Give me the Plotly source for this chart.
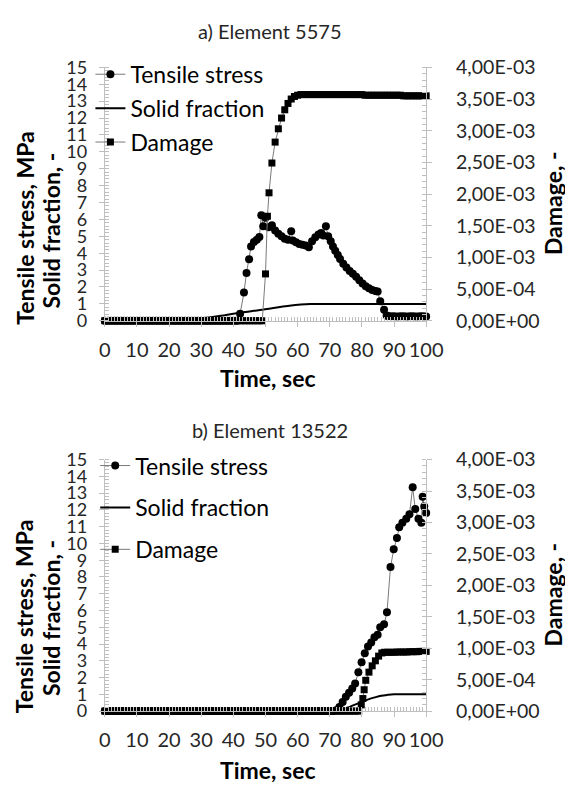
import plotly.graph_objects as go

# ---------------- data ----------------
# a) Element 5575
a_stress_t = list(range(0, 42)) + [42.1, 43.3, 44.1, 44.9, 45.5, 46.4, 47.3, 48.1, 48.7, 49.3, 50.0, 51.0, 52.0,
              53.0, 54.0, 55.0, 56.0, 57.0, 58.0, 58.5, 59.5, 60.5, 61.5, 62.5, 63.5, 64.5, 65.5, 66.5, 67.3,
              68.0, 68.8, 69.5, 70.3, 71.0, 71.7, 72.5, 73.2, 74.2, 75.2, 76.2, 77.2, 78.2, 79.2, 80.2, 81.2,
              82.2, 83.2, 84.2, 84.9, 85.7, 86.9, 87.7] + list(range(88, 101))
a_stress = [0.0] * 42 + [0.42, 1.67, 2.83, 3.64, 4.40, 4.66, 4.80, 4.96, 6.24, 5.60, 6.10, 5.54, 5.66,
              5.35, 5.15, 5.00, 4.85, 4.80, 5.30, 4.75, 4.65, 4.55, 4.50, 4.45, 4.35, 4.70, 4.95, 5.10, 5.20,
              5.05, 5.60, 5.00, 4.70, 4.40, 4.15, 3.90, 3.66, 3.37, 3.15, 2.95, 2.79, 2.60, 2.40, 2.21, 2.05,
              1.92, 1.82, 1.76, 1.73, 1.15, 0.66, 0.31] + [0.28, 0.27, 0.27, 0.26, 0.27, 0.27, 0.26, 0.27,
              0.27, 0.26, 0.27, 0.27, 0.26]

a_solid_t = [0, 20, 22, 25, 28, 31, 34, 37, 40, 43, 46, 49, 52, 55, 58, 61, 64, 67, 100]
a_solid = [0.0, 0.0, 0.01, 0.04, 0.09, 0.16, 0.24, 0.32, 0.41, 0.50, 0.58, 0.65, 0.74, 0.83, 0.91, 0.96,
           0.99, 1.0, 1.0]

a_damage_t = list(range(0, 50)) + [50.0, 50.6, 51.1, 52, 53, 54, 55, 56, 57, 58, 59, 60] + list(range(61, 101))
a_damage = [0.0] * 50 + [0.74e-3, 1.65e-3, 2.02e-3, 2.49e-3, 2.82e-3, 3.03e-3, 3.20e-3, 3.33e-3, 3.43e-3,
            3.50e-3, 3.54e-3, 3.56e-3] + [3.57e-3] * 20 + [3.56e-3] * 12 + [3.55e-3] * 8

# b) Element 13522
b_stress_t = list(range(0, 72)) + [72, 73, 74, 75, 76, 77, 77.9, 78.9, 79.9, 80.9, 81.9, 82.9, 83.9, 84.9,
              85.7, 86.9, 87.8, 88.9, 89.9, 90.9, 91.6, 92.6, 93.8, 94.8, 95.8, 96.6, 97.6, 98.5, 98.9,
              99.4, 100]
b_stress = [0.0] * 72 + [0.05, 0.25, 0.55, 0.85, 1.10, 1.35, 1.64, 2.32, 2.92, 3.45, 3.85, 4.10, 4.40, 4.55,
              5.00, 5.18, 5.89, 8.59, 9.65, 10.32, 10.96, 11.23, 11.48, 11.74, 13.36, 12.06, 11.48, 11.23,
              12.78, 12.20, 11.81]

b_solid_t = [0, 68, 70, 72, 74, 76, 78, 80, 82, 84, 86, 88, 90, 100]
b_solid = [0.0, 0.0, 0.03, 0.08, 0.14, 0.24, 0.40, 0.55, 0.70, 0.82, 0.92, 0.97, 1.0, 1.0]

b_damage_t = list(range(0, 80)) + [79.8, 80.3, 80.7, 81.2, 82.2, 83.2, 84.2, 85.2, 86.2] + list(range(87, 101))
b_damage = [0.0] * 80 + [0.10e-3, 0.20e-3, 0.34e-3, 0.49e-3, 0.62e-3, 0.72e-3, 0.80e-3, 0.875e-3, 0.925e-3] + \
           [0.936e-3] * 4 + [0.94e-3] * 4 + [0.945e-3] * 3 + [0.95e-3] * 3

left_ticks = list(range(0, 16))
right_tickvals = [0, 0.5e-3, 1.0e-3, 1.5e-3, 2.0e-3, 2.5e-3, 3.0e-3, 3.5e-3, 4.0e-3]
right_ticktext = ["0,00E+00", "5,00E-04", "1,00E-03", "1,50E-03", "2,00E-03", "2,50E-03",
                  "3,00E-03", "3,50E-03", "4,00E-03"]
x_ticks = list(range(0, 101, 10))

titles = ["a) Element 5575", "b) Element 13522"]
names = ["Tensile stress", "Solid fraction", "Damage"]

# ---------------- layout helpers ----------------
W, H = 565, 793
FONT = "Lato"


def fx(x):
    return x / W


def fy(y):
    return 1 - y / H


fig = go.Figure()

panels = [
    dict(st=a_stress_t, s=a_stress, sft=a_solid_t, sf=a_solid, dt=a_damage_t, d=a_damage,
         xa="x", ya="y", ya2="y2", legend="legend"),
    dict(st=b_stress_t, s=b_stress, sft=b_solid_t, sf=b_solid, dt=b_damage_t, d=b_damage,
         xa="x2", ya="y3", ya2="y4", legend="legend2"),
]

for i, p in enumerate(panels):
    fig.add_trace(go.Scatter(x=p["st"], y=p["s"], name=names[0], mode="lines+markers",
                             line=dict(color="#7a7a7a", width=1),
                             marker=dict(symbol="circle", size=8, color="black"),
                             xaxis=p["xa"], yaxis=p["ya"], cliponaxis=False,
                             legend=p["legend"], legendgroup=f"g{i}a"))
    fig.add_trace(go.Scatter(x=p["sft"], y=p["sf"], name=names[1], mode="lines",
                             line=dict(color="black", width=2, shape="spline"),
                             xaxis=p["xa"], yaxis=p["ya"], cliponaxis=False,
                             legend=p["legend"], legendgroup=f"g{i}b"))
    fig.add_trace(go.Scatter(x=p["dt"], y=p["d"], name=names[2], mode="lines+markers",
                             line=dict(color="#7a7a7a", width=1),
                             marker=dict(symbol="square", size=7, color="black"),
                             xaxis=p["xa"], yaxis=p["ya2"], cliponaxis=False,
                             legend=p["legend"], legendgroup=f"g{i}c"))

AX = "#bfbfbf"
TICKFONT_L = dict(family=FONT, size=18, color="#262626")
TICKFONT_R = dict(family=FONT, size=19.5, color="#262626")
TICKFONT_X = dict(family=FONT, size=20, color="#262626")
xdom = [fx(103), fx(438)]
ydoms = [[fy(318), fy(57)], [fy(720), fy(461)]]

xaxis_common = dict(domain=xdom, range=[0, 100], tickvals=x_ticks, ticks="outside", ticklen=5,
                    tickcolor=AX, showline=True, linecolor=AX, linewidth=1, showgrid=False,
                    zeroline=False, tickfont=TICKFONT_X, ticklabelstandoff=6,
                    minor=dict(ticks="inside", ticklen=4, dtick=1, tickcolor=AX))
yaxis_common = dict(range=[0, 15], tickvals=left_ticks, ticks="outside", ticklen=5, tickcolor=AX,
                    showline=True, linecolor=AX, linewidth=1, showgrid=False, zeroline=False,
                    tickfont=TICKFONT_L, ticklabelstandoff=8,
                    minor=dict(ticks="inside", ticklen=4, dtick=0.2, tickcolor=AX))
yaxis_right = dict(range=[0, 4e-3], tickvals=right_tickvals, ticktext=right_ticktext, side="right",
                   ticks="outside", ticklen=5, tickcolor=AX, showline=True, linecolor=AX, linewidth=1,
                   showgrid=False, zeroline=False, tickfont=TICKFONT_R, ticklabelstandoff=20,
                   minor=dict(ticks="inside", ticklen=4, dtick=1e-4, tickcolor=AX))

legend_common = dict(font=dict(family=FONT, size=23, color="black"), bgcolor="rgba(0,0,0,0)",
                     itemwidth=30, tracegroupgap=1, traceorder="grouped", xanchor="left",
                     yanchor="top", borderwidth=0)

fig.update_layout(
    width=W, height=H, margin=dict(l=0, r=0, t=0, b=0),
    paper_bgcolor="white", plot_bgcolor="white",
    font=dict(family=FONT, color="black"),
    xaxis=dict(anchor="y", **xaxis_common),
    yaxis=dict(domain=ydoms[0], anchor="x", **yaxis_common),
    yaxis2=dict(overlaying="y", anchor="x", **yaxis_right),
    xaxis2=dict(anchor="y3", **xaxis_common),
    yaxis3=dict(domain=ydoms[1], anchor="x2", **yaxis_common),
    yaxis4=dict(overlaying="y3", anchor="x2", **yaxis_right),
    legend=dict(x=fx(88), y=fy(42), **legend_common),
    legend2=dict(x=fx(93), y=fy(445), **{**legend_common, "tracegroupgap": 9}),
    showlegend=True,
)

ann = []
title_y = [20, 430]
time_y = [377, 781]
left1_y = [222, 622]
left2_y = [225, 624]
right_y = [197, 600]
for i in range(2):
    ann.append(dict(text=titles[i], x=fx(275), y=fy(title_y[i]), xref="paper", yref="paper",
                    showarrow=False, font=dict(family=FONT, size=20, color="#262626"),
                    xanchor="center", yanchor="middle"))
    ann.append(dict(text="<b>Time, sec</b>", x=fx(273), y=fy(time_y[i]), xref="paper", yref="paper",
                    showarrow=False, font=dict(family=FONT, size=23, color="black"),
                    xanchor="center", yanchor="middle"))
    ann.append(dict(text="<b>Tensile stress, MPa</b>", x=fx(19), y=fy(left1_y[i]), xref="paper",
                    yref="paper", showarrow=False, textangle=-90,
                    font=dict(family=FONT, size=23, color="black"), xanchor="center", yanchor="middle"))
    ann.append(dict(text="<b>Solid fraction, -</b>", x=fx(47), y=fy(left2_y[i]), xref="paper",
                    yref="paper", showarrow=False, textangle=-90,
                    font=dict(family=FONT, size=23, color="black"), xanchor="center", yanchor="middle"))
    ann.append(dict(text="<b>Damage, -</b>", x=fx(570), y=fy(right_y[i]), xref="paper",
                    yref="paper", showarrow=False, textangle=-90,
                    font=dict(family=FONT, size=23, color="black"), xanchor="center", yanchor="middle"))
fig.update_layout(annotations=ann)

fig.write_html("out.html")
